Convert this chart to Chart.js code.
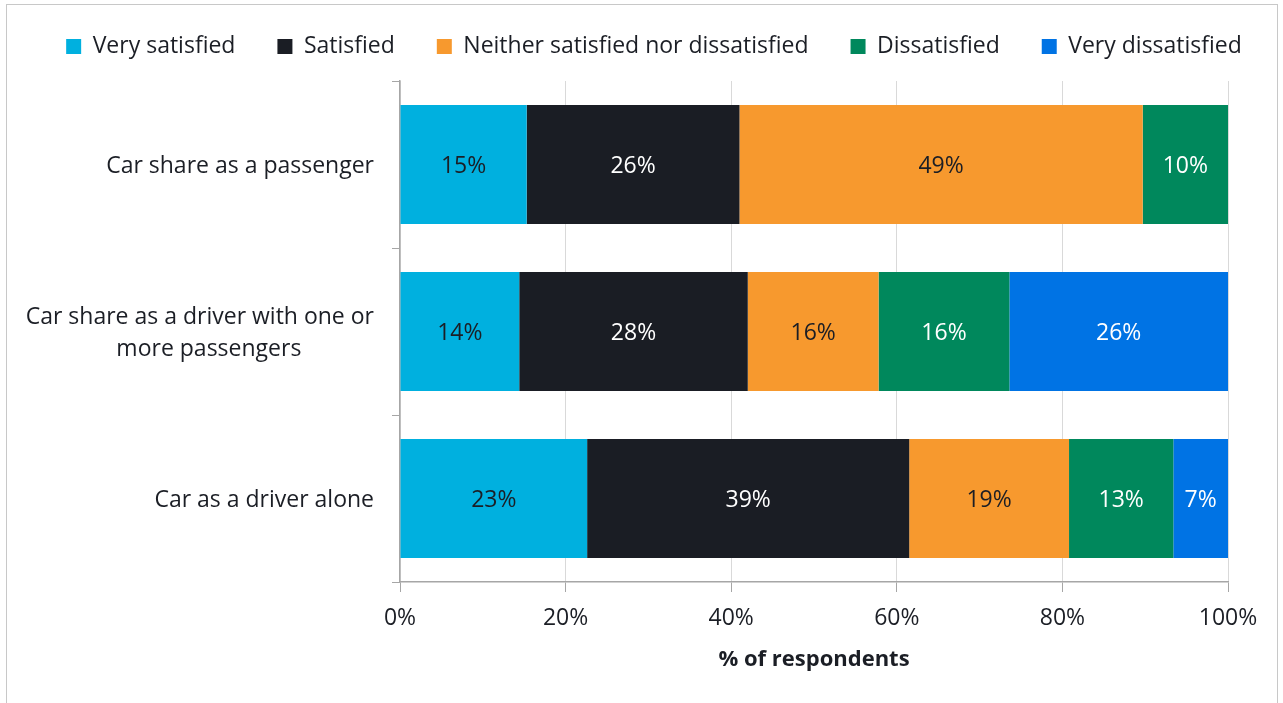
<!DOCTYPE html>
<html><head><meta charset="utf-8">
<script src="https://cdn.jsdelivr.net/npm/chart.js@4.4.1/dist/chart.umd.min.js"></script>
<style>
html,body{margin:0;padding:0;background:#fff;overflow:hidden}
#wrap{position:relative;width:1283px;height:703px}
#frame{position:absolute;left:6px;top:4px;width:1272px;height:720px;border:1px solid #c8c8c8;box-sizing:border-box;pointer-events:none}
canvas{position:absolute;left:0;top:0}
</style></head><body>
<div id="wrap"><canvas id="c" width="1283" height="703"></canvas><div id="frame"></div></div>
<script>
// ---- data ----
const categories = [
  "Car share as a passenger",
  ["Car share as a driver with one or", "more passengers"],
  "Car as a driver alone"
];
const seriesNames = ["Very satisfied", "Satisfied", "Neither satisfied nor dissatisfied", "Dissatisfied", "Very dissatisfied"];
const verySatisfied    = [15.3, 14.4, 22.6];
const satisfied        = [25.7, 27.6, 38.9];
const neither          = [48.7, 15.8, 19.3];
const dissatisfied     = [10.3, 15.8, 12.6];
const veryDissatisfied = [0,    26.4,  6.6];
const xTicks = [0, 20, 40, 60, 80, 100];
const xTitle = "% of respondents";

// ---- styles ----
const TEXT = '#1b1e25';
const FONT = '"Open Sans", "DejaVu Sans", sans-serif';
const colors = ['#00b0df', '#1a1d24', '#f7992e', '#00885c', '#0073e4'];
const labelColors = [TEXT, '#ffffff', TEXT, '#ffffff', '#ffffff'];
const seriesValues = [verySatisfied, satisfied, neither, dissatisfied, veryDissatisfied];

const LEG_PAD = 42, TOP_PAD = 35 - LEG_PAD;
const LEGEND_CENTER = 654;

const segmentLabels = {
  id: 'segmentLabels',
  afterDatasetsDraw(chart) {
    const ctx = chart.ctx;
    ctx.save();
    ctx.font = '23px ' + FONT;
    ctx.textAlign = 'center';
    ctx.textBaseline = 'middle';
    chart.data.datasets.forEach((ds, i) => {
      const meta = chart.getDatasetMeta(i);
      meta.data.forEach((el, j) => {
        const v = ds.data[j];
        if (!v) return;
        const p = el.getProps(['x', 'y', 'base'], true);
        ctx.fillStyle = labelColors[i];
        ctx.fillText(Math.round(v) + '%', (p.x + p.base) / 2, p.y + 2);
      });
    });
    ctx.restore();
  }
};

const categoryLabels = {
  id: 'categoryLabels',
  afterDraw(chart) {
    const s = chart.scales.y, ctx = chart.ctx;
    ctx.save();
    ctx.font = '23px ' + FONT;
    ctx.fillStyle = TEXT;
    ctx.textAlign = 'center';
    ctx.textBaseline = 'middle';
    const right = s.right - s.options.grid.tickLength - s.options.ticks.padding;
    const lh = 32;
    categories.forEach((c, i) => {
      const lines = [].concat(c);
      const w = Math.max(...lines.map(l => ctx.measureText(l).width));
      const cy = s.getPixelForTick(i);
      lines.forEach((l, k) => ctx.fillText(l, right - w / 2 + (k > 0 ? 9 : 0), cy + 2 + (k - (lines.length - 1) / 2) * lh));
    });
    ctx.restore();
  }
};

const legendFit = {
  id: 'legendFit',
  beforeInit(chart) {
    const lg = chart.legend;
    if (!lg) return;
    const f = lg.fit;
    lg.fit = function () {
      const mw = this.maxWidth;
      this.maxWidth = 4000;
      f.call(this);
      this.maxWidth = mw;
      this.width = mw;
      this.height = 81 - TOP_PAD;
    };
  },
  afterLayout(chart) {
    const lg = chart.legend;
    if (!lg) return;
    const half = 700;
    lg.left = LEGEND_CENTER - half;
    lg.right = LEGEND_CENTER + half;
    lg.width = 2 * half;
  }
};

function draw() {
  Chart.defaults.font.family = FONT;
  Chart.defaults.font.size = 23;
  Chart.defaults.color = TEXT;
  new Chart(document.getElementById('c'), {
    type: 'bar',
    data: {
      labels: categories,
      datasets: seriesValues.map((vals, i) => ({
        label: seriesNames[i],
        data: vals,
        backgroundColor: colors[i],
        borderWidth: 0,
        barPercentage: 1,
        categoryPercentage: 0.713
      }))
    },
    options: {
      indexAxis: 'y',
      responsive: false,
      animation: false,
      devicePixelRatio: 1,
      layout: { padding: { left: 0, right: 55, top: TOP_PAD, bottom: 0 } },
      plugins: {
        legend: {
          position: 'top',
          labels: { boxWidth: 15, boxHeight: 15, padding: LEG_PAD, color: TEXT, font: { size: 23 } }
        },
        tooltip: { enabled: false }
      },
      scales: {
        x: {
          stacked: true,
          min: 0, max: 100,
          afterBuildTicks(s) { s.ticks = xTicks.map(v => ({ value: v })); },
          afterFit(s) { s.height = 121; },
          ticks: { callback: v => v + '%', padding: 13, color: TEXT, font: { size: 23 } },
          grid: { color: '#d9d9d9', tickColor: '#a6a6a6', tickLength: 10, lineWidth: 1 },
          border: { color: '#a6a6a6', width: 1.5 },
          title: { display: true, text: xTitle, color: TEXT, font: { size: 22, weight: 'bold' }, padding: { top: 0, bottom: 30 } }
        },
        y: {
          stacked: true,
          afterFit(s) { s.width = 400; },
          ticks: { color: 'rgba(0,0,0,0)', padding: 18 },
          grid: { offset: true, drawOnChartArea: false, tickLength: 8, color: '#a6a6a6', tickColor: '#a6a6a6' },
          border: { color: '#a6a6a6', width: 1.5 }
        }
      }
    },
    plugins: [legendFit, segmentLabels, categoryLabels]
  });
}
Promise.all([
  document.fonts.load('23px "Open Sans"'),
  document.fonts.load('bold 22px "Open Sans"')
]).then(draw, draw);
</script>
</body></html>
